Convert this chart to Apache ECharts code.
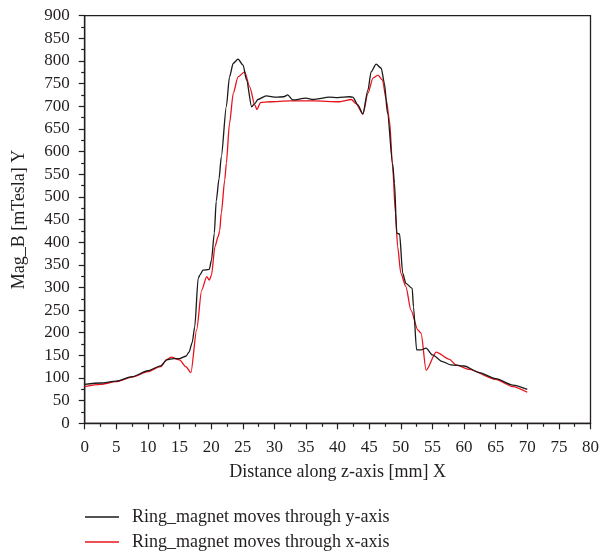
<!DOCTYPE html>
<html>
<head>
<meta charset="utf-8">
<script src="https://cdn.jsdelivr.net/npm/echarts@6/dist/echarts.min.js"></script>
<style>
  html, body { margin: 0; padding: 0; background: #fff; }
  #chart { width: 602px; height: 555px; }
</style>
</head>
<body>
<div id="chart"></div>
<script>
// Magnetic flux density along the z-axis for the ring magnet
const seriesNames = [
  'Ring_magnet moves through y-axis',
  'Ring_magnet moves through x-axis'
];

// [distance mm, Mag_B mTesla] — magnet moving through y-axis
const yAxisRun = [
  [0, 86], [2.5, 89], [5, 93], [7.5, 103], [10, 116], [12, 127], [13, 140],
  [14, 143], [15, 143], [16, 148], [16.5, 157], [17, 178], [17.4, 213],
  [17.95, 320], [18.2, 327], [18.7, 338], [19.7, 340], [20.05, 360],
  [20.5, 420], [20.8, 490], [21.25, 540], [21.6, 588], [22.4, 699],
  [22.9, 765], [23.5, 795], [24.25, 804], [25.05, 791], [25.6, 758],
  [26.4, 699], [26.9, 706], [27.4, 715], [28.7, 723], [30.3, 720],
  [31.5, 721], [32.1, 725], [32.9, 714], [35, 718], [36.1, 715],
  [38.7, 720], [40, 719], [41.9, 721], [42.4, 720], [43.2, 703],
  [44.0, 683], [44.8, 736], [45.3, 776], [46.1, 793], [46.9, 784],
  [47.4, 751], [47.9, 684], [48.7, 574], [49.0, 530], [49.35, 420],
  [49.8, 418], [50.3, 331], [50.8, 309], [51.8, 298], [52.0, 257],
  [52.5, 162], [53.2, 162], [54.0, 166], [55.0, 151], [56.6, 136],
  [57.9, 129], [60, 126.5], [62.4, 112], [65, 98.5], [67.7, 84.5], [70, 75]
];

// [distance mm, Mag_B mTesla] — magnet moving through x-axis
const xAxisRun = [
  [0, 81], [2.5, 86], [5, 92], [7.5, 102], [10, 114], [12, 125], [13, 141],
  [13.7, 146], [15, 140], [16, 125], [16.8, 112], [17.7, 206], [18.5, 294],
  [19.3, 324], [19.7, 316], [20.05, 327], [20.6, 390], [21.1, 412],
  [21.35, 425], [21.6, 464], [22.15, 537], [22.4, 574], [22.9, 662],
  [23.5, 729], [24.25, 765], [25.3, 776], [26.1, 743], [26.9, 703],
  [27.25, 693], [27.8, 708], [29.3, 710], [32.4, 712], [36.1, 712],
  [40.3, 710], [42.2, 715], [42.9, 706], [44.0, 683], [44.8, 729],
  [45.6, 762], [46.4, 769], [47.1, 758], [47.7, 714], [48.2, 670],
  [48.7, 567], [49.15, 464], [49.5, 390], [50.0, 331], [50.8, 302],
  [51.6, 250], [52.7, 206], [53.2, 199], [54.0, 117], [55.6, 157],
  [57.7, 141], [58.7, 129], [60.8, 119], [65, 97], [67.7, 81], [70, 68.5]
];

const seriesColors = ['#1a1a1a', '#e8141c'];

const FONT = '"Liberation Serif", "DejaVu Serif", serif';
const INK = '#231f20';

const chart = echarts.init(document.getElementById('chart'), null, { renderer: 'canvas' });

const axisCommon = {
  axisLine: { show: true, onZero: false, lineStyle: { color: INK, width: 1.3 } },
  axisTick: { show: true, inside: false, length: 6, lineStyle: { color: INK, width: 1.2 } },
  minorTick: { show: true, splitNumber: 2, length: 3.5, lineStyle: { color: INK, width: 1.2 } },
  splitLine: { show: false },
  axisLabel: { color: INK, fontFamily: FONT, fontSize: 17 },
  nameTextStyle: { color: INK, fontFamily: FONT, fontSize: 18 }
};

// one legend block per row, stacked under the plot
const legendRow = (name, top) => ({
  orient: 'vertical', left: 80, top: top,
  itemWidth: 34, itemHeight: 1.5, icon: 'rect',
  textStyle: { color: INK, fontFamily: FONT, fontSize: 18, padding: [0, 0, 0, 8] },
  data: [name]
});

chart.setOption({
  animation: false,
  backgroundColor: '#fff',
  grid: {
    left: 84.7, right: 10.3, top: 15.7, bottom: 131.7,
    show: true, borderColor: INK, borderWidth: 1.3, backgroundColor: 'transparent'
  },
  xAxis: Object.assign({}, axisCommon, {
    type: 'value', min: 0, max: 80, interval: 5,
    name: 'Distance along z-axis [mm] X',
    nameLocation: 'middle', nameGap: 40,
    axisLabel: Object.assign({}, axisCommon.axisLabel, { margin: 16 })
  }),
  yAxis: Object.assign({}, axisCommon, {
    type: 'value', min: 0, max: 900, interval: 50,
    name: 'Mag_B [mTesla] Y',
    nameLocation: 'middle', nameGap: 56,
    axisLabel: Object.assign({}, axisCommon.axisLabel, { margin: 15 })
  }),
  legend: [legendRow(seriesNames[0], 503), legendRow(seriesNames[1], 528)],
  series: [
    {
      name: seriesNames[0], type: 'line', data: yAxisRun,
      showSymbol: false, smooth: 0.25, smoothMonotone: 'x',
      lineStyle: { color: seriesColors[0], width: 1.3 }, itemStyle: { color: seriesColors[0] }, z: 3
    },
    {
      name: seriesNames[1], type: 'line', data: xAxisRun,
      showSymbol: false, smooth: 0.25, smoothMonotone: 'x',
      lineStyle: { color: seriesColors[1], width: 1.3 }, itemStyle: { color: seriesColors[1] }, z: 2
    }
  ]
});
</script>
</body>
</html>
